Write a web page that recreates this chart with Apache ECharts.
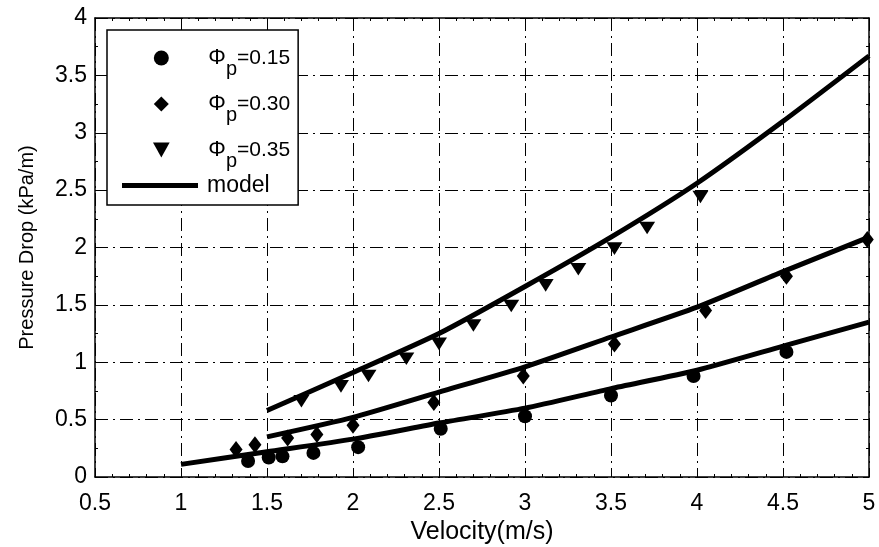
<!DOCTYPE html>
<html>
<head>
<meta charset="utf-8">
<script src="https://cdn.jsdelivr.net/npm/echarts@6/dist/echarts.min.js"></script>
<style>html,body{margin:0;padding:0;background:#fff;}#c{width:879px;height:547px;}</style>
</head>
<body>
<div id="c"></div>
<script>
// ---- data ----
const xTicks = [0.5, 1, 1.5, 2, 2.5, 3, 3.5, 4, 4.5, 5];
const yTicks = [0, 0.5, 1, 1.5, 2, 2.5, 3, 3.5, 4];

const seriesNames = ['Φp=0.15', 'Φp=0.30', 'Φp=0.35', 'model'];

const velPhi015 = [1.39, 1.51, 1.59, 1.77, 2.03, 2.51, 3.00, 3.50, 3.98, 4.52];
const dpPhi015  = [0.14, 0.17, 0.18, 0.21, 0.26, 0.42, 0.53, 0.71, 0.88, 1.09];

const velPhi030 = [1.32, 1.43, 1.62, 1.79, 2.00, 2.47, 2.99, 3.52, 4.05, 4.52, 4.99];
const dpPhi030  = [0.24, 0.28, 0.34, 0.37, 0.45, 0.65, 0.88, 1.16, 1.45, 1.75, 2.07];

const velPhi035 = [1.70, 1.93, 2.09, 2.31, 2.50, 2.70, 2.92, 3.12, 3.31, 3.52, 3.71, 4.02];
const dpPhi035  = [0.66, 0.79, 0.88, 1.03, 1.16, 1.32, 1.49, 1.67, 1.81, 1.99, 2.17, 2.44];

const modelVel015 = [1, 1.5, 2, 2.5, 3, 3.5, 4, 4.5, 5];
const modelDp015  = [0.11, 0.22, 0.33, 0.47, 0.60, 0.77, 0.93, 1.14, 1.35];

const modelVel030 = [1.5, 2, 2.5, 3, 3.5, 4, 4.5, 5];
const modelDp030  = [0.35, 0.52, 0.74, 0.96, 1.22, 1.48, 1.79, 2.09];

const modelVel035 = [1.5, 2, 2.5, 3, 3.5, 4, 4.5, 5];
const modelDp035  = [0.58, 0.91, 1.25, 1.66, 2.09, 2.56, 3.10, 3.67];

// ---- build ----
const zip = (xs, ys) => xs.map((x, i) => [x, ys[i]]);
const FONT = "'Liberation Sans', Arial, Helvetica, sans-serif";
const triDown = 'path://M0,0 L10,0 L5,9 Z';
const diamondIcon = 'path://M7,0 L14,7 L7,14 L0,7 Z';
const lineIcon = 'path://M0,0 L76,0 L76,5 L0,5 Z';
const gridDash = [13, 5, 2, 5];

function axisCommon(extra) {
  return Object.assign({
    type: 'value',
    axisLine: { show: true, onZero: false, lineStyle: { color: '#000', width: 1.5 } },
    axisTick: { show: true, inside: true, length: 6, lineStyle: { color: '#000', width: 1 } },
    minorTick: { show: true, length: 3, lineStyle: { color: '#000', width: 1 } },
    splitLine: { show: false },
    axisLabel: { show: false }
  }, extra);
}

const chart = echarts.init(document.getElementById('c'), null, { renderer: 'canvas' });

const option = {
  backgroundColor: '#fff',
  animation: false,
  textStyle: { fontFamily: FONT, color: '#000' },
  grid: { left: 95, right: 10, top: 18, bottom: 70, containLabel: false, outerBoundsMode: 'none' },
  xAxis: [
    axisCommon({
      position: 'bottom', min: xTicks[0], max: xTicks[xTicks.length - 1], interval: 0.5,
      minorTick: { show: true, splitNumber: 5, length: 3, lineStyle: { color: '#000' } },
      splitLine: { show: true, lineStyle: { color: '#000', width: 1, type: gridDash } },
      axisLabel: { show: true, fontSize: 23, color: '#000', fontFamily: FONT, margin: 15,
        formatter: v => String(v) },
      name: 'Velocity(m/s)', nameLocation: 'middle', nameGap: 43,
      nameTextStyle: { fontSize: 25, color: '#000', fontFamily: FONT }
    }),
    axisCommon({
      position: 'top', min: xTicks[0], max: xTicks[xTicks.length - 1], interval: 0.5,
      minorTick: { show: true, splitNumber: 5, length: 3, lineStyle: { color: '#000' } }
    })
  ],
  yAxis: [
    axisCommon({
      position: 'left', min: yTicks[0], max: yTicks[yTicks.length - 1], interval: 0.5,
      minorTick: { show: true, splitNumber: 2, length: 3, lineStyle: { color: '#000' } },
      splitLine: { show: true, lineStyle: { color: '#000', width: 1, type: gridDash } },
      axisLabel: { show: true, fontSize: 23, color: '#000', fontFamily: FONT, margin: 8,
        formatter: v => String(v) },
      name: 'Pressure Drop (kPa/m)', nameLocation: 'middle', nameGap: 58,
      nameTextStyle: { fontSize: 20, color: '#000', fontFamily: FONT }
    }),
    axisCommon({
      position: 'right', min: yTicks[0], max: yTicks[yTicks.length - 1], interval: 0.5,
      minorTick: { show: true, splitNumber: 2, length: 3, lineStyle: { color: '#000' } }
    })
  ],
  legend: [
    {
      orient: 'vertical',
      left: 107, top: 30,
      itemWidth: 76, itemHeight: 15,
      itemGap: 14,
      symbolKeepAspect: true,
      padding: [17, 8, 34, 46],
      backgroundColor: '#fff',
      borderColor: '#000', borderWidth: 1.5, borderRadius: 0,
      selectedMode: false,
      data: [
        { name: seriesNames[0], icon: 'circle' },
        { name: seriesNames[1], icon: diamondIcon },
        { name: seriesNames[2], icon: triDown }
      ],
      formatter: function (name) {
        return '{phi|Φ}{sub|p}{t|' + name.slice(2) + '}';
      },
      textStyle: {
        fontFamily: FONT, fontSize: 20, color: '#000',
        rich: {
          phi: { fontFamily: FONT, fontSize: 22, color: '#000', padding: [0, 0, 0, 4] },
          sub: { fontFamily: FONT, fontSize: 20, color: '#000', padding: [22, 0, 0, 0] },
          t: { fontFamily: FONT, fontSize: 21, color: '#000' }
        }
      }
    },
    {
      orient: 'vertical',
      left: 107, top: 174,
      z: 6,
      itemWidth: 76, itemHeight: 15,
      symbolKeepAspect: true,
      padding: [0, 0, 0, 15],
      backgroundColor: 'transparent',
      borderWidth: 0,
      selectedMode: false,
      data: [{ name: seriesNames[3], icon: lineIcon }],
      textStyle: { fontFamily: FONT, fontSize: 23, color: '#000', padding: [0, 0, 0, 4] }
    }
  ],
  series: [
    {
      name: seriesNames[0], type: 'scatter', xAxisIndex: 0, yAxisIndex: 0,
      symbol: 'circle', symbolSize: 14, symbolKeepAspect: true,
      itemStyle: { color: '#000', opacity: 1 },
      data: zip(velPhi015, dpPhi015), z: 5
    },
    {
      name: seriesNames[1], type: 'scatter', xAxisIndex: 0, yAxisIndex: 0,
      symbol: 'diamond', symbolSize: [13, 17], symbolKeepAspect: true,
      itemStyle: { color: '#000', opacity: 1 },
      data: zip(velPhi030, dpPhi030), z: 5
    },
    {
      name: seriesNames[2], type: 'scatter', xAxisIndex: 0, yAxisIndex: 0,
      symbol: triDown, symbolSize: [16, 14], symbolKeepAspect: true,
      itemStyle: { color: '#000', opacity: 1 },
      data: zip(velPhi035, dpPhi035), z: 5
    },
    {
      name: seriesNames[3], type: 'line', xAxisIndex: 0, yAxisIndex: 0,
      showSymbol: false, symbol: 'none', smooth: 0.2,
      lineStyle: { color: '#000', width: 5 }, itemStyle: { color: '#000' },
      data: zip(modelVel015, modelDp015), z: 4
    },
    {
      name: seriesNames[3], type: 'line', xAxisIndex: 0, yAxisIndex: 0,
      showSymbol: false, symbol: 'none', smooth: 0.2,
      lineStyle: { color: '#000', width: 5 }, itemStyle: { color: '#000' },
      data: zip(modelVel030, modelDp030), z: 4
    },
    {
      name: seriesNames[3], type: 'line', xAxisIndex: 0, yAxisIndex: 0,
      showSymbol: false, symbol: 'none', smooth: 0.2,
      lineStyle: { color: '#000', width: 5 }, itemStyle: { color: '#000' },
      data: zip(modelVel035, modelDp035), z: 4
    }
  ]
};

chart.setOption(option);
</script>
</body>
</html>
